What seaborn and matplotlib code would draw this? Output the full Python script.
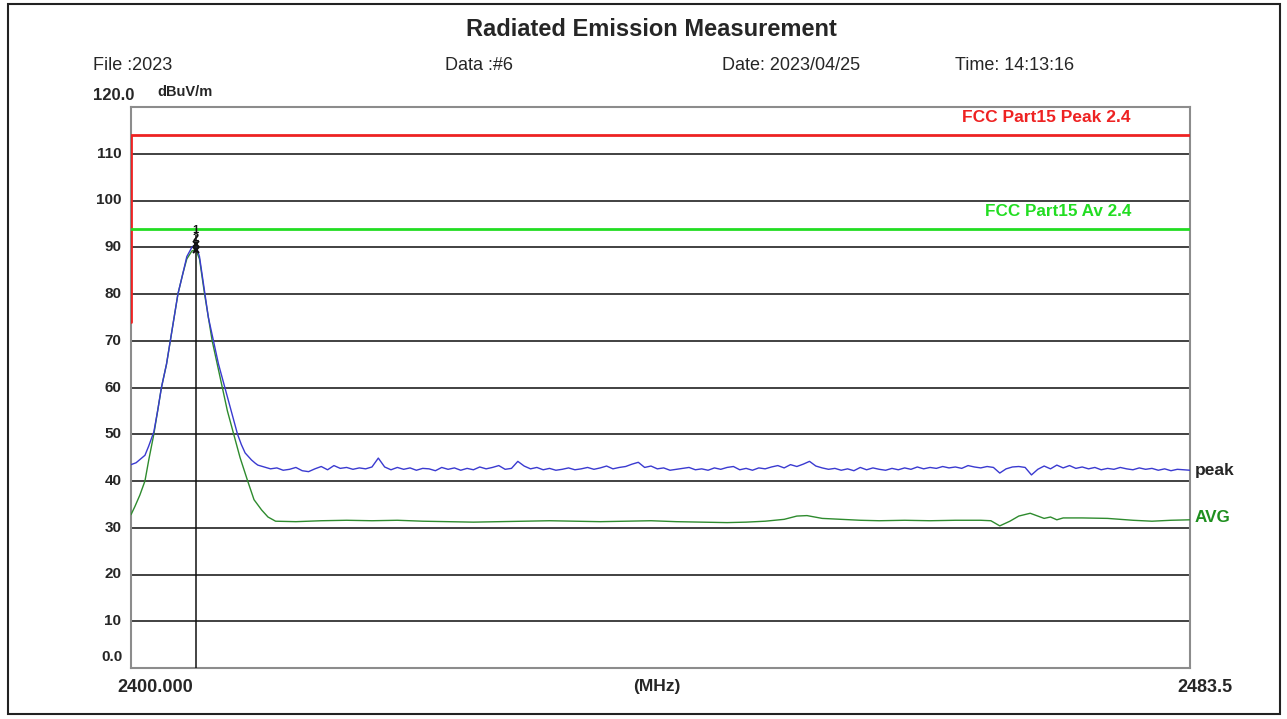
import numpy as np
import pandas as pd
import matplotlib
matplotlib.use("Agg")
import matplotlib.pyplot as plt
import seaborn as sns
from matplotlib.patches import Rectangle

# ---- data ----
# peak detector, around the carrier
peak_freq = [2400.0, 2400.4, 2400.8, 2401.1, 2401.4, 2401.8, 2402.1, 2402.4, 2402.8,
             2403.1, 2403.4, 2403.7, 2404.1, 2404.4, 2404.8, 2405.1, 2405.4, 2405.8,
             2406.1, 2406.5, 2406.9, 2407.4, 2407.9, 2408.4, 2408.7, 2409.0, 2409.5,
             2409.8]
peak_level = [43.5, 43.9, 44.8, 45.5, 47.5, 50.5, 55.0, 60.0, 65.0,
              70.0, 75.0, 80.0, 84.5, 88.0, 90.0, 90.6, 88.0, 80.5,
              75.0, 70.0, 65.0, 60.0, 55.0, 50.0, 47.8, 46.0, 44.5,
              43.8]

# peak detector noise floor, 2410.0 .. 2483.5 MHz in 0.5 MHz steps
peak_floor = [43.4, 43.0, 42.6, 42.8, 42.3, 42.5, 42.9, 42.2, 42.0, 42.6,
              43.1, 42.4, 43.3, 42.7, 42.9, 42.5, 42.8, 42.6, 43.0, 44.9,
              43.0, 42.4, 42.9, 42.5, 42.8, 42.3, 42.7, 42.6, 42.2, 42.9,
              42.5, 42.8, 42.3, 42.7, 42.4, 43.0, 42.6, 42.9, 43.3, 42.5,
              42.7, 44.2, 43.2, 42.6, 42.9, 42.4, 42.7, 42.3, 42.5, 42.8,
              42.4, 42.6, 42.9, 42.5, 42.8, 43.2, 42.6, 42.9, 43.1, 43.6,
              44.0, 42.9, 43.2, 42.6, 42.8, 42.3, 42.5, 42.7, 42.9, 42.4,
              42.6, 42.3, 42.8, 42.5, 42.9, 43.1, 42.4, 42.7, 42.3, 42.8,
              42.6, 43.0, 43.3, 42.8, 43.5, 43.1, 43.6, 44.2, 43.2, 42.8,
              42.5, 42.7, 42.3, 42.6, 42.2, 42.9, 42.4, 42.8, 42.5, 42.3,
              42.7, 42.4, 42.8, 42.5, 43.0, 42.6, 42.9, 42.7, 43.1, 42.8,
              43.0, 42.7, 43.3, 43.0, 42.8, 43.1, 42.9, 41.7, 42.6, 43.0,
              43.1, 42.9, 41.3, 42.5, 43.2, 42.6, 43.4, 42.8, 43.3, 42.7,
              43.0, 42.6, 42.9, 42.4, 42.7, 42.5, 42.9, 42.6, 42.4, 42.8,
              42.5, 42.7, 42.3, 42.6, 42.2, 42.5, 42.4, 42.3]
floor_start, floor_stop = 2410.0, 2483.5

# average detector
avg_freq = [2400.0, 2400.3, 2400.7, 2401.1, 2401.4, 2401.8, 2402.1, 2402.4, 2402.8,
            2403.1, 2403.4, 2403.7, 2404.1, 2404.4, 2404.8, 2405.1, 2405.4, 2405.8,
            2406.1, 2406.4, 2406.8, 2407.2, 2407.6, 2408.1, 2408.6, 2409.2, 2409.7,
            2410.3, 2410.8, 2411.4, 2413.0, 2415.0, 2417.0, 2419.0, 2421.0, 2423.0,
            2425.0, 2427.0, 2429.0, 2431.0, 2433.0, 2435.0, 2437.0, 2439.0, 2441.0,
            2443.0, 2445.0, 2447.0, 2448.5, 2450.0, 2451.5, 2452.5, 2453.3, 2454.5,
            2456.0, 2457.5, 2459.0, 2461.0, 2463.0, 2465.0, 2467.0, 2467.8, 2468.5,
            2469.3, 2470.0, 2470.9, 2471.5, 2472.0, 2472.5, 2473.0, 2473.5, 2475.0,
            2477.0, 2478.0, 2479.0, 2480.5, 2482.0, 2483.5]
avg_level = [32.8, 34.5, 37.0, 40.0, 44.5, 50.0, 55.0, 60.0, 65.0,
             70.0, 75.0, 80.0, 84.5, 87.5, 89.2, 89.5, 87.5, 80.0,
             75.0, 70.0, 65.0, 60.0, 55.0, 50.0, 45.0, 40.0, 36.0,
             33.8, 32.3, 31.4, 31.3, 31.5, 31.6, 31.5, 31.6, 31.4,
             31.3, 31.2, 31.3, 31.4, 31.5, 31.4, 31.3, 31.4, 31.5,
             31.3, 31.2, 31.1, 31.2, 31.4, 31.8, 32.5, 32.6, 32.0,
             31.8, 31.6, 31.5, 31.6, 31.5, 31.6, 31.6, 31.5, 30.4,
             31.4, 32.5, 33.1, 32.5, 32.0, 32.3, 31.7, 32.1, 32.1,
             32.0, 31.8, 31.6, 31.4, 31.6, 31.7]

# limit lines (FCC Part15 2.4 GHz band)
peak_limit_freq = [2400.0, 2400.0, 2483.5]
peak_limit_level = [74.0, 114.0, 114.0]
avg_limit_freq = [2400.0, 2483.5]
avg_limit_level = [94.0, 94.0]

marker_freq = 2405.1
marker_levels = [90.6, 89.5]
marker_names = ["1", "2"]

y_ticks = [10, 20, 30, 40, 50, 60, 70, 80, 90, 100, 110]

# ---- build tables ----
floor_freq = np.linspace(floor_start, floor_stop, len(peak_floor))
peak_df = pd.DataFrame({"freq": list(peak_freq) + list(floor_freq),
                        "level": peak_level + peak_floor})
avg_df = pd.DataFrame({"freq": avg_freq, "level": avg_level})

sns.set_style("white")
plt.rcParams["font.family"] = ["Liberation Sans", "DejaVu Sans"]

W, H = 1287, 719
fig = plt.figure(figsize=(W / 100, H / 100), dpi=100)
ax = fig.add_axes([131 / W, 1 - 668 / H, (1190 - 131) / W, (668 - 107) / H])


def px(x, y):
    return x / W, 1 - y / H


# grid
for t in y_ticks:
    ax.axhline(t, color="#333333", lw=1.3, zorder=1)

sns.lineplot(x=peak_limit_freq, y=peak_limit_level, ax=ax, color="#ee2222",
             lw=2, sort=False, estimator=None, zorder=3)
sns.lineplot(x=avg_limit_freq, y=avg_limit_level, ax=ax, color="#22dd22",
             lw=2, estimator=None, zorder=3)
sns.lineplot(data=avg_df, x="freq", y="level", ax=ax, color="#2e8b2e",
             lw=1.0, sort=False, estimator=None, zorder=4)
sns.lineplot(data=peak_df, x="freq", y="level", ax=ax, color="#3a3ad0",
             lw=1.0, sort=False, estimator=None, zorder=5)

# marker line and markers
ax.plot([marker_freq, marker_freq], [0, max(marker_levels) + 2], color="#111111",
        lw=1.1, zorder=6)
for lvl, name in zip(marker_levels, marker_names):
    ax.plot(marker_freq, lvl, marker="x", color="#111111", ms=5, mew=1.5, zorder=7)
ax.text(marker_freq, marker_levels[0] + 3.0, marker_names[0], ha="center", va="center",
        fontsize=8, fontweight="bold", color="#111111", zorder=8)
ax.text(marker_freq, marker_levels[0] + 1.3, marker_names[1], ha="center", va="center",
        fontsize=8, fontweight="bold", color="#111111", zorder=8)

ax.set_xlim(2400.0, 2483.5)
ax.set_ylim(0, 120)
ax.set_xticks([])
ax.set_yticks([])
ax.set_xlabel("")
ax.set_ylabel("")
for s in ax.spines.values():
    s.set_color("#8c8c8c")
    s.set_linewidth(1.5)

# y tick labels
trans = ax.get_yaxis_transform()
for t in y_ticks:
    ax.text(-0.009, t, str(t), transform=trans, ha="right", va="center",
            fontsize=11, fontweight="bold")
fig.text(*px(123, 657), "0.0", ha="right", va="center", fontsize=11, fontweight="bold")
fig.text(*px(93, 96), "120.0", ha="left", va="center", fontsize=12, fontweight="bold")
fig.text(*px(157, 92), "dBuV/m", ha="left", va="center", fontsize=10.5, fontweight="bold")

# header
fig.text(*px(651, 30), "Radiated Emission Measurement", ha="center", va="center",
         fontsize=17, fontweight="bold")
fig.text(*px(93, 65), "File :2023", ha="left", va="center", fontsize=13)
fig.text(*px(445, 65), "Data :#6", ha="left", va="center", fontsize=13)
fig.text(*px(722, 65), "Date: 2023/04/25", ha="left", va="center", fontsize=13)
fig.text(*px(955, 65), "Time: 14:13:16", ha="left", va="center", fontsize=13)

# x labels
fig.text(*px(155, 687), "2400.000", ha="center", va="center", fontsize=13, fontweight="bold")
fig.text(*px(657, 687), "(MHz)", ha="center", va="center", fontsize=12.5, fontweight="bold")
fig.text(*px(1205, 687), "2483.5", ha="center", va="center", fontsize=13, fontweight="bold")

# limit and trace labels
fig.text(*px(1046, 117), "FCC Part15 Peak 2.4", ha="center", va="center",
         fontsize=12.5, fontweight="bold", color="#ee2222")
fig.text(*px(1058, 211), "FCC Part15 Av 2.4", ha="center", va="center",
         fontsize=12.3, fontweight="bold", color="#22dd22")
fig.text(*px(1195, 471), "peak", ha="left", va="center", fontsize=12.5, fontweight="bold")
fig.text(*px(1195, 518), "AVG", ha="left", va="center", fontsize=12.3, fontweight="bold",
         color="#1f8f1f")

# page frame
fig.patches.append(Rectangle((8 / W, 1 - 714 / H), (1280 - 8) / W, (714 - 4) / H,
                             transform=fig.transFigure, fill=False, lw=1.5,
                             edgecolor="#222222"))

fig.savefig("out.png", dpi=100)
